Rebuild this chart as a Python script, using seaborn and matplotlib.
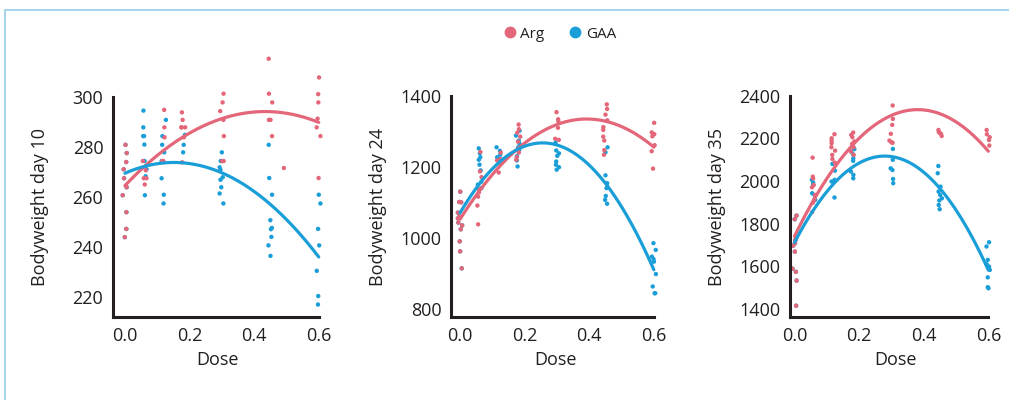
import numpy as np
import pandas as pd
import matplotlib

matplotlib.use("Agg")
import matplotlib.pyplot as plt
from matplotlib.lines import Line2D
import seaborn as sns

COLORS = {"Arg": "#E46679", "GAA": "#1A9ED8"}
INK = "#231F20"

# shared control animals (dose 0)
D10_CONTROL = [281, 277.7, 274.1, 271.2, 267.6, 264, 260.8, 254, 247.3, 244]
D24_CONTROL = [1130, 1101, 1100, 1071, 1060, 1055, 1043, 1035, 1024, 990, 962, 914]
D35_CONTROL = [1838, 1821, 1729, 1721, 1708, 1697, 1669, 1589, 1574, 1533, 1415]

# bodyweight per dose, day 10
D10_ARG = {
    0.06: [274.5, 270.8, 267.6, 267.6, 265.1],
    0.12: [295, 288, 284, 274.5, 274.5],
    0.18: [294, 291, 288, 288, 288, 284, 274],
    0.30: [301.5, 298, 294.5, 291, 284.5, 274.5, 274.5],
    0.45: [315.5, 301.5, 298, 291, 291, 284.5],
    0.49: [271.7],
    0.60: [308, 301.3, 298, 291.5, 288, 284.5, 267.7],
}
D10_GAA = {
    0.06: [294.7, 288, 284.5, 284.5, 281.1, 274.5, 271.2, 268.4, 260.8],
    0.12: [291, 284.5, 281, 278, 274.5, 267.6, 261, 257.5],
    0.18: [285, 281, 278],
    0.30: [278, 274.5, 272, 271, 268, 267, 264, 261.5, 257.5],
    0.45: [281, 267.7, 261, 250.8, 247.7, 247.2, 244.1, 240.7, 236.5],
    0.60: [261, 257.5, 247.3, 240.7, 230.5, 220.4, 217],
}

# day 24
D24_ARG = {
    0.06: [1242, 1187, 1171, 1137, 1128, 1116, 1091, 1038],
    0.12: [1240, 1222, 1218, 1210, 1184],
    0.18: [1319, 1306, 1296, 1285, 1271, 1250, 1240, 1227, 1220],
    0.30: [1354, 1334, 1328, 1310, 1279, 1276],
    0.45: [1376, 1363, 1347, 1331, 1312, 1304, 1285, 1274, 1247, 1234],
    0.60: [1324, 1297, 1292, 1286, 1261, 1244, 1195],
}
D24_GAA = {
    0.06: [1252, 1238, 1227, 1220, 1206, 1190, 1158, 1150, 1140],
    0.12: [1255, 1245, 1234, 1227, 1222],
    0.18: [1302, 1288, 1274, 1265, 1255, 1248, 1230, 1218, 1201],
    0.30: [1268, 1246, 1238, 1231, 1215, 1206, 1199, 1192],
    0.45: [1255, 1241, 1176, 1154, 1140, 1118, 1107, 1096],
    0.60: [985, 966, 947, 940, 933, 898, 863, 844, 844],
}

# day 35
D35_ARG = {
    0.06: [2110, 2021, 2013, 1982, 1971, 1935, 1913, 1899, 1854],
    0.12: [2220, 2201, 2190, 2178, 2159, 2143, 2123, 2104, 2087],
    0.18: [2228, 2217, 2206, 2186, 2175, 2159, 2139, 2123],
    0.30: [2355, 2292, 2264, 2222, 2190, 2182, 2180],
    0.45: [2240, 2230, 2225, 2222, 2212],
    0.60: [2240, 2220, 2206, 2193, 2167],
}
D35_GAA = {
    0.06: [2006, 1993, 1982, 1943, 1934, 1912],
    0.12: [2081, 2049, 2006, 1998, 1923],
    0.18: [2150, 2139, 2126, 2107, 2095, 2045, 2029, 2013],
    0.30: [2151, 2100, 2060, 2052, 2010, 1990],
    0.45: [2071, 2037, 1974, 1951, 1935, 1919, 1909, 1888, 1868],
    0.60: [1713, 1693, 1630, 1610, 1599, 1583, 1548, 1502, 1497],
}

PANELS = [
    ("Bodyweight day 10", D10_CONTROL, D10_ARG, D10_GAA, (212, 317), [220, 240, 260, 280, 300], -0.037),
    ("Bodyweight day 24", D24_CONTROL, D24_ARG, D24_GAA, (777, 1515), [800, 1000, 1200, 1400], -0.028),
    ("Bodyweight day 35", D35_CONTROL, D35_ARG, D35_GAA, (1362, 2592), [1400, 1600, 1800, 2000, 2200, 2400], -0.014),
]

rng = np.random.default_rng(7)


def build_frame(control, arg, gaa):
    """Long table; control animals belong to both groups with one jitter."""
    ctrl_jit = rng.uniform(-0.007, 0.007, len(control))
    rows = []
    for group, series in (("GAA", gaa), ("Arg", arg)):
        for v, j in zip(control, ctrl_jit):
            rows.append((group, 0.0, 0.0 + j, v))
        for dose, vals in series.items():
            for v in vals:
                rows.append((group, dose, dose + rng.uniform(-0.007, 0.007), v))
    return pd.DataFrame(rows, columns=["group", "dose", "dose_j", "weight"])


sns.set_style("white")
plt.rcParams["font.family"] = ["Open Sans", "DejaVu Sans"]

fig = plt.figure(figsize=(10.09, 4.0), dpi=100)
W, H = 1009, 400
lefts = [113, 451, 790]
ax_w, ax_bottom, ax_top = 210, 317, 55

for left, (label, control, arg, gaa, ylim, yticks, x0) in zip(lefts, PANELS):
    ax = fig.add_axes([left / W, 1 - ax_bottom / H, ax_w / W, (ax_bottom - ax_top) / H])
    df = build_frame(control, arg, gaa)

    sns.scatterplot(data=df, x="dose_j", y="weight", hue="group", palette=COLORS,
                    s=10, linewidth=0, legend=False, ax=ax, clip_on=False, zorder=2)
    for group in ["Arg", "GAA"]:
        sub = df[df["group"] == group]
        sns.regplot(data=sub, x="dose", y="weight", order=2, ci=None, scatter=False,
                    color=COLORS[group], line_kws={"lw": 2.3, "zorder": 3}, ax=ax)

    ax.set_xlim(x0, x0 + ax_w / 323)
    ax.set_ylim(*ylim)
    ax.set_xticks([0.0, 0.2, 0.4, 0.6])
    ax.set_xticklabels(["0.0", "0.2", "0.4", "0.6"])
    ax.set_yticks(yticks)
    ax.set_xlabel("Dose", fontsize=13, color=INK)
    ax.set_ylabel(label, fontsize=13, color=INK)
    ax.xaxis.set_label_coords(0.5, -0.13)
    ax.yaxis.set_label_coords(-0.305, 0.42)
    ax.tick_params(length=0, pad=7, labelsize=13, colors=INK)

    for side in ["top", "right"]:
        ax.spines[side].set_visible(False)
    for side in ["left", "bottom"]:
        ax.spines[side].set_color(INK)
        ax.spines[side].set_linewidth(2.2)
    ax.spines["left"].set_bounds(ylim[0], yticks[-1])
    ax.spines["bottom"].set_bounds(x0, 0.6)

handles = [
    Line2D([], [], marker="o", ls="", color=COLORS[g], markersize=8.5, markeredgewidth=0)
    for g in ["Arg", "GAA"]
]
fig.legend(handles, ["Arg", "GAA"], loc="center", bbox_to_anchor=(559 / W, 1 - 34 / H),
           ncol=2, frameon=False, fontsize=11, handlelength=1.0, handletextpad=0.2,
           columnspacing=1.5, labelcolor=INK)

# light frame around the figure
frame = "#A9D5EC"
fig.add_artist(Line2D([5 / W, 5 / W], [0, 1 - 10 / H], transform=fig.transFigure, color=frame, lw=1.5))
fig.add_artist(Line2D([5 / W, 1], [1 - 10 / H, 1 - 10 / H], transform=fig.transFigure, color=frame, lw=1.5))

fig.savefig("out.png", dpi=100)
